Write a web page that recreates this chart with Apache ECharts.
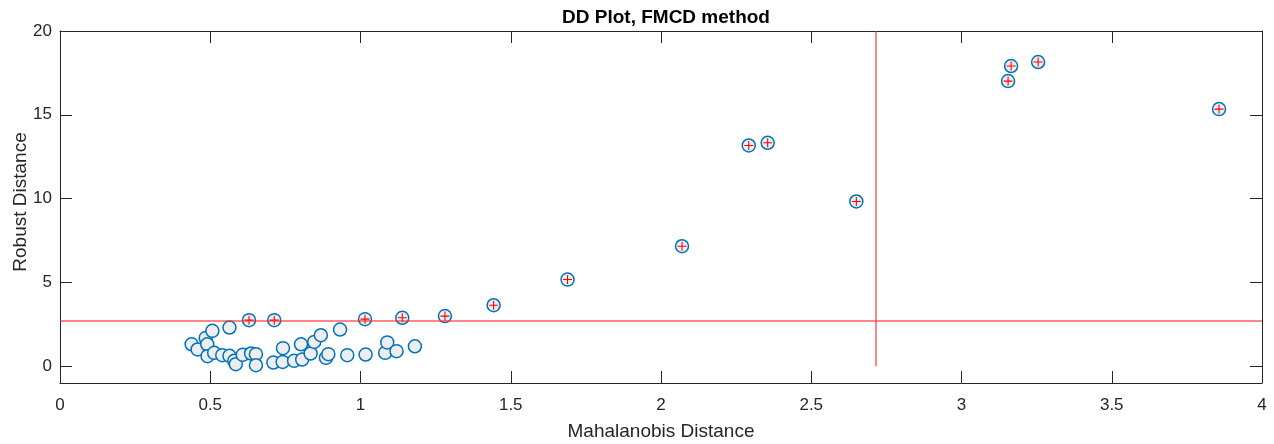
<!DOCTYPE html>
<html>
<head>
<meta charset="utf-8">
<title>DD Plot, FMCD method</title>
<script src="https://cdn.jsdelivr.net/npm/echarts@6.0.0/dist/echarts.min.js"></script>
<style>
  html, body { margin: 0; padding: 0; background: #fff; }
  #chart { width: 1274px; height: 444px; }
</style>
</head>
<body>
<div id="chart"></div>
<script>
// Mahalanobis (x) and robust (y) distances
const inlierMd = [0.438, 0.458, 0.485, 0.490, 0.507, 0.491, 0.513, 0.540, 0.564, 0.564,
                  0.580, 0.585, 0.608, 0.636, 0.652, 0.652, 0.710, 0.741, 0.742, 0.779,
                  0.802, 0.806, 0.834, 0.846, 0.868, 0.885, 0.893, 0.932, 0.956, 1.017,
                  1.082, 1.089, 1.120, 1.181];
const inlierRd = [1.31, 1.00, 1.69, 1.31, 2.11, 0.60, 0.80, 0.66, 0.62, 2.31,
                  0.32, 0.12, 0.68, 0.76, 0.72, 0.06, 0.22, 0.26, 1.08, 0.32,
                  1.31, 0.40, 0.76, 1.45, 1.85, 0.50, 0.72, 2.19, 0.66, 0.70,
                  0.80, 1.42, 0.90, 1.19];

// points flagged as outliers (robust distance above the cutoff)
const outlierMd = [0.629, 0.713, 1.015, 1.139, 1.281, 1.443, 1.689, 2.070, 2.292, 2.355,
                   2.650, 3.155, 3.165, 3.255, 3.857];
const outlierRd = [2.75, 2.75, 2.81, 2.89, 2.99, 3.64, 5.17, 7.16, 13.17, 13.33,
                   9.83, 17.01, 17.91, 18.15, 15.34];

const cutoff = 2.716;
const xTicks = [0, 0.5, 1, 1.5, 2, 2.5, 3, 3.5, 4];
const yTicks = [0, 5, 10, 15, 20];

const FONT = '"Liberation Sans", Arial, Helvetica, sans-serif';
const AXIS_COLOR = '#262626';

const allPoints = inlierMd.map((x, i) => [x, inlierRd[i]])
    .concat(outlierMd.map((x, i) => [x, outlierRd[i]]));
const outPoints = outlierMd.map((x, i) => [x, outlierRd[i]]);

const PLUS = 'path://M4.4,0h1.2v4.4h4.4v1.2h-4.4v4.4h-1.2v-4.4h-4.4v-1.2h4.4z';

const chart = echarts.init(document.getElementById('chart'));

function boxAxis(pos, isX, main) {
    const ax = {
        type: 'value',
        position: pos,
        min: isX ? 0 : -1,
        max: isX ? 4 : 20,
        axisLine: { show: true, onZero: false, lineStyle: { color: AXIS_COLOR, width: 1 } },
        axisTick: {
            show: true, inside: true, length: 12,
            customValues: isX ? xTicks : yTicks,
            lineStyle: { color: AXIS_COLOR, width: 1 }
        },
        axisLabel: {
            show: main,
            customValues: isX ? xTicks : yTicks,
            color: AXIS_COLOR,
            fontFamily: FONT,
            fontSize: 17,
            margin: isX ? 14 : 8
        },
        splitLine: { show: false }
    };
    if (main) {
        ax.name = isX ? 'Mahalanobis Distance' : 'Robust Distance';
        ax.nameLocation = 'middle';
        ax.nameGap = isX ? 39 : 30;
        ax.nameMoveOverlap = false;
        ax.nameTextStyle = {
            color: AXIS_COLOR, fontFamily: FONT, fontSize: 19,
            padding: isX ? 0 : [0, 0, 0, 10]
        };
    }
    return ax;
}

const option = {
    animation: false,
    backgroundColor: '#ffffff',
    title: {
        text: 'DD Plot, FMCD method',
        left: 661,
        textAlign: 'center',
        top: 3,
        textStyle: { color: '#000', fontFamily: FONT, fontSize: 19, fontWeight: 'bold' }
    },
    grid: { left: 60, top: 31, right: 12, bottom: 61, outerBoundsMode: 'none' },
    xAxis: [boxAxis('bottom', true, true), boxAxis('top', true, false)],
    yAxis: [boxAxis('left', false, true), boxAxis('right', false, false)],
    series: [
        {
            name: 'points',
            type: 'scatter',
            data: allPoints,
            symbol: 'circle',
            symbolSize: 13,
            itemStyle: { color: '#eeeeee', borderColor: '#0072BD', borderWidth: 1.5, opacity: 1 },
            markLine: {
                silent: true,
                symbol: 'none',
                label: { show: false },
                lineStyle: { color: 'rgba(255,40,40,0.75)', width: 1.5, type: 'solid' },
                data: [
                    [{ coord: [0, cutoff] }, { coord: [4, cutoff] }],
                    [{ coord: [cutoff, 0] }, { coord: [cutoff, 20] }]
                ]
            },
            z: 2
        },
        {
            name: 'outliers',
            type: 'scatter',
            data: outPoints,
            symbol: PLUS,
            symbolSize: 9,
            itemStyle: { color: '#ff0000', opacity: 1 },
            z: 3
        }
    ]
};

chart.setOption(option);
</script>
</body>
</html>
